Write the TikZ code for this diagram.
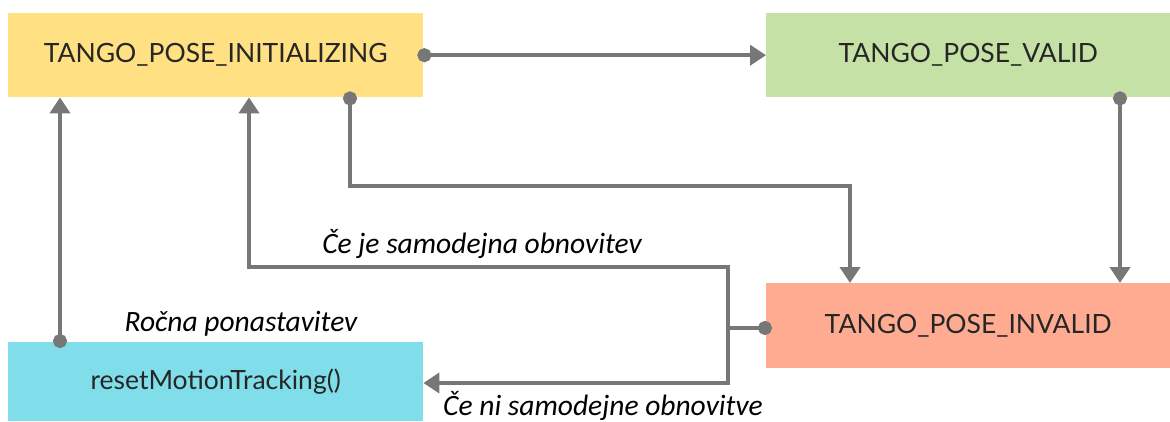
\documentclass[tikz,border=0pt]{standalone}
\usepackage{fontspec}
\setmainfont{Lato}
\newfontfamily\labfont{Carlito}
\usetikzlibrary{arrows.meta}
\definecolor{cyel}{HTML}{FFE082}
\definecolor{cgrn}{HTML}{C5E1A5}
\definecolor{csal}{HTML}{FFAB91}
\definecolor{ccya}{HTML}{80DEEA}
\definecolor{cline}{HTML}{777777}
\tikzset{
  statebox/.style={fill=#1, draw=none, inner sep=0pt, anchor=north west, font=\fontsize{26.5}{30}\selectfont, text=black!85},
  conn/.style={draw=cline, line width=4.5pt, shorten <=-6pt, {Circle[length=14pt,width=14pt]}-{Triangle[length=16pt,width=20pt]}},
  connplain/.style={draw=cline, line width=4.5pt, shorten <=-6pt, {Circle[length=14pt,width=14pt]}-},
  lab/.style={font=\labfont\itshape\fontsize{29.5}{34}\selectfont, inner sep=0pt}
}
\begin{document}
\begin{tikzpicture}[x=1pt,y=-1pt]
\useasboundingbox (0,0) rectangle (1170,421);
\node[statebox=cyel, minimum width=415pt, minimum height=84pt] (init) at (8,13) {TANGO\_POSE\_INITIALIZING};
\node[statebox=cgrn, minimum width=404pt, minimum height=84pt] (valid) at (766,13) {TANGO\_POSE\_VALID};
\node[statebox=csal, minimum width=404pt, minimum height=85pt] (invalid) at (766,283) {TANGO\_POSE\_INVALID};
\node[statebox=ccya, minimum width=415pt, minimum height=79pt] (reset) at (8,342) {resetMotionTracking()};
\coordinate (j) at (728,328);
% init -> valid
\draw[conn] (init.east) -- (valid.west);
% valid -> invalid
\draw[conn] (valid.south -| 1120,0) -- (invalid.north -| 1120,0);
% init -> invalid
\draw[conn] (init.south -| 350,0) -- (350,186) -- (850,186) -- (invalid.north -| 850,0);
% invalid -> junction
\draw[connplain] (invalid.west |- j) -- (j);
\draw[draw=cline, line width=4.5pt, -{Triangle[length=16pt,width=20pt]}] (728,267) -- (249,267) -- (init.south -| 249,0);
\draw[draw=cline, line width=4.5pt, -{Triangle[length=16pt,width=20pt]}] (728,265) -- (728,383) -- (reset.east |- 0,383);
% reset -> init
\draw[conn] (reset.north -| 60,0) -- (init.south -| 60,0);
\node[lab] (l1) at (482,244) {Če je samodejna obnovitev};
\node[lab] (l2) at (241,324) {Ročna ponastavitev};
\node[lab] (l3) at (603,406) {Če ni samodejne obnovitve};
\end{tikzpicture}
\end{document}
